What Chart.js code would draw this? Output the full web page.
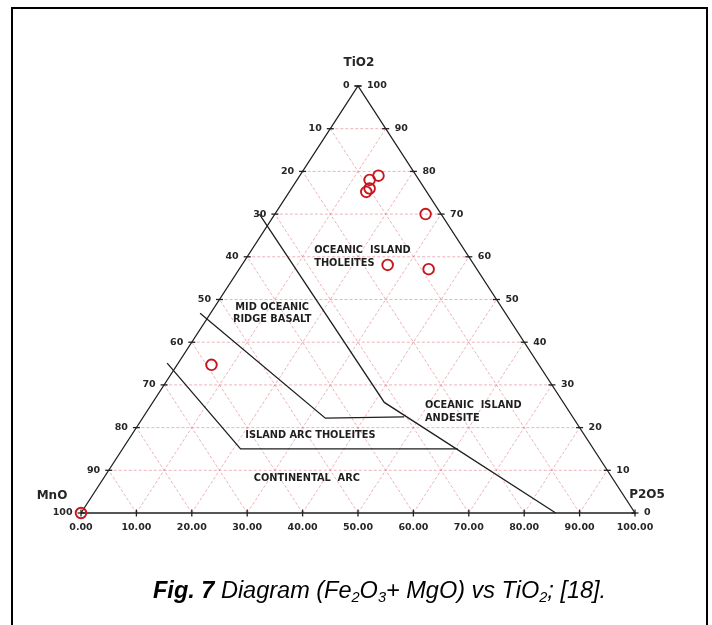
<!DOCTYPE html>
<html>
<head>
<meta charset="utf-8">
<script src="https://cdn.jsdelivr.net/npm/chart.js@4/dist/chart.umd.min.js"></script>
<style>
  html, body { margin: 0; padding: 0; background: #fff; }
  #wrap { position: relative; width: 712px; height: 625px; overflow: hidden; }
  #frame { position: absolute; left: 11px; top: 7px; width: 697px; height: 660px;
           border: 2px solid #000; box-sizing: border-box; }
  #plot { position: absolute; left: 0; top: 0; }
  #caption { position: absolute; left: 153px; top: 577px;
             font-family: "Liberation Sans", Arial, sans-serif; font-style: italic;
             font-size: 23.5px; color: #000; white-space: nowrap; }
  #caption sub { font-size: 0.62em; vertical-align: -0.3em; line-height: 0; }
</style>
</head>
<body>
<div id="wrap">
  <div id="frame"></div>
  <canvas id="plot" width="712" height="625"></canvas>
  <div id="caption"><b>Fig. 7</b> Diagram (Fe<sub>2</sub>O<sub>3</sub>+ MgO) vs TiO<sub>2</sub>; [18].</div>
</div>
<script>
// Tick values shared by the three ternary axes
const tickValues = [0, 10, 20, 30, 40, 50, 60, 70, 80, 90, 100];

// Sample compositions (wt. %, normalised to 100)
const sampleTiO2 = [79.0, 78.0, 76.0, 75.2, 70.0, 58.1, 57.1, 34.7, 0.0];
const sampleP2O5 = [14.2, 13.1, 14.1, 13.9, 27.2, 26.3, 34.2, 6.2, 0.0];
const sampleMnO  = [6.8, 8.9, 9.9, 10.9, 2.8, 15.6, 8.7, 59.1, 100.0];

// Triangle outline vertices: MnO corner, P2O5 corner, TiO2 corner, back to MnO
const frameTiO2 = [0, 0, 100, 0];
const frameP2O5 = [0, 100, 0, 0];

// Field boundaries (TiO2 / P2O5 of each vertex, MnO is the remainder)
const oitBoundaryTiO2 = [70.0, 25.9, 0.0];
const oitBoundaryP2O5 = [-2.8, 41.8, 85.7];
const morbBoundaryTiO2 = [46.8, 22.2, 22.5];
const morbBoundaryP2O5 = [-1.9, 33.0, 47.1];
const iatBoundaryTiO2 = [35.1, 15.0, 15.0];
const iatBoundaryP2O5 = [-2.0, 21.3, 60.5];

// Field names
const fieldOIT  = ['OCEANIC  ISLAND', 'THOLEITES'];
const fieldMORB = ['MID OCEANIC', 'RIDGE BASALT'];
const fieldOIA  = ['OCEANIC  ISLAND', 'ANDESITE'];
const fieldIAT  = ['ISLAND ARC THOLEITES'];
const fieldCA   = ['CONTINENTAL  ARC'];

// Ternary (TiO2, P2O5) -> cartesian plot coordinates of the triangle
function toXY(ti, p) { return { x: p + ti / 2, y: ti }; }
function pathOf(tiArr, pArr) { return tiArr.map((t, i) => toXY(t, pArr[i])); }
function samplePoints() {
  return sampleTiO2.map((t, i) => {
    const s = t + sampleP2O5[i] + sampleMnO[i];
    return toXY(100 * t / s, 100 * sampleP2O5[i] / s);
  });
}

const LABEL_FONT = 'bold 9.5px "DejaVu Sans", sans-serif';
const TITLE_FONT = 'bold 12px "DejaVu Sans", sans-serif';
const FIELD_FONT = 'bold 9.8px "DejaVu Sans", sans-serif';
const INK = '#262626';

const ternaryAxes = {
  id: 'ternaryAxes',
  beforeDatasetsDraw(chart) {
    const { ctx, scales: { x, y } } = chart;
    const P = (ti, p) => [x.getPixelForValue(p + ti / 2), y.getPixelForValue(ti)];
    const seg = (a, b) => { ctx.beginPath(); ctx.moveTo(a[0], a[1]); ctx.lineTo(b[0], b[1]); ctx.stroke(); };

    ctx.save();
    // dashed reference grid
    ctx.strokeStyle = 'rgba(218, 95, 110, 0.6)';
    ctx.lineWidth = 0.8;
    ctx.setLineDash([3, 2]);
    tickValues.forEach(v => {
      if (v === 0 || v === 100) return;
      seg(P(v, 0), P(v, 100 - v));          // constant TiO2
      seg(P(0, v), P(100 - v, v));          // constant P2O5
      seg(P(0, 100 - v), P(100 - v, 0));    // constant MnO
    });
    ctx.setLineDash([]);

    // tick marks
    ctx.strokeStyle = '#222';
    ctx.lineWidth = 1.3;
    tickValues.forEach(v => {
      const l = P(100 - v, 0);      // left edge, MnO = v
      seg([l[0] - 3.5, l[1]], [l[0] + 3.5, l[1]]);
      const r = P(v, 100 - v);      // right edge, TiO2 = v
      seg([r[0] - 3.5, r[1]], [r[0] + 3.5, r[1]]);
      const b = P(0, v);            // base, P2O5 = v
      seg([b[0], b[1] - 3.5], [b[0], b[1] + 3.5]);
    });

    // tick labels
    ctx.fillStyle = INK;
    ctx.font = LABEL_FONT;
    ctx.textBaseline = 'middle';
    tickValues.forEach(v => {
      const l = P(100 - v, 0);
      ctx.textAlign = 'right';
      ctx.fillText(String(v), l[0] - 8.5, l[1]);
      const r = P(v, 100 - v);
      ctx.textAlign = 'left';
      ctx.fillText(String(v), r[0] + 9, r[1]);
      const b = P(0, v);
      ctx.textAlign = 'center';
      ctx.fillText(v.toFixed(2), b[0], b[1] + 14.5);
    });

    // corner titles
    ctx.font = TITLE_FONT;
    ctx.textAlign = 'center';
    const top = P(100, 0), left = P(0, 0), right = P(0, 100);
    ctx.fillText('TiO2', top[0] + 1, top[1] - 23);
    ctx.fillText('MnO', left[0] - 29, left[1] - 17);
    ctx.fillText('P2O5', right[0] + 12, right[1] - 18);

    // field names (anchors in plot coordinates)
    ctx.font = FIELD_FONT;
    ctx.fillStyle = '#1e1e1e';
    const put = (lines, px, py, align) => {
      ctx.textAlign = align;
      lines.forEach((s, i) => ctx.fillText(s, x.getPixelForValue(px), y.getPixelForValue(py) + i * 12.2));
    };
    put(fieldOIT, 42.1, 61.4, 'left');
    put(fieldMORB, 34.5, 48.2, 'center');
    put(fieldOIA, 62.1, 25.1, 'left');
    put(fieldIAT, 41.4, 18.2, 'center');
    put(fieldCA, 31.2, 8.0, 'left');
    ctx.restore();
  }
};

const lineStyle = { showLine: true, pointRadius: 0, borderColor: '#1f1f1f', borderWidth: 1.3,
                    fill: false, tension: 0, clip: false };

new Chart(document.getElementById('plot'), {
  type: 'scatter',
  data: {
    datasets: [
      { label: 'Samples', data: samplePoints(), pointStyle: 'circle', pointRadius: 5.3,
        pointBorderWidth: 1.9, pointBorderColor: '#c8161d', pointBackgroundColor: 'rgba(0,0,0,0)',
        borderColor: '#c8161d', showLine: false, clip: false, order: 0 },
      Object.assign({ label: 'Outline', data: pathOf(frameTiO2, frameP2O5), order: 1 }, lineStyle),
      Object.assign({ label: 'OIT boundary', data: pathOf(oitBoundaryTiO2, oitBoundaryP2O5), order: 1 }, lineStyle),
      Object.assign({ label: 'MORB boundary', data: pathOf(morbBoundaryTiO2, morbBoundaryP2O5), order: 1 }, lineStyle),
      Object.assign({ label: 'IAT boundary', data: pathOf(iatBoundaryTiO2, iatBoundaryP2O5), order: 1 }, lineStyle)
    ]
  },
  options: {
    responsive: false,
    animation: false,
    devicePixelRatio: 1,
    layout: { padding: { left: 81, right: 77, top: 86, bottom: 112 } },
    scales: {
      x: { type: 'linear', min: 0, max: 100, display: false },
      y: { type: 'linear', min: 0, max: 100, display: false }
    },
    plugins: { legend: { display: false }, tooltip: { enabled: false }, title: { display: false } }
  },
  plugins: [ternaryAxes]
});
</script>
</body>
</html>
